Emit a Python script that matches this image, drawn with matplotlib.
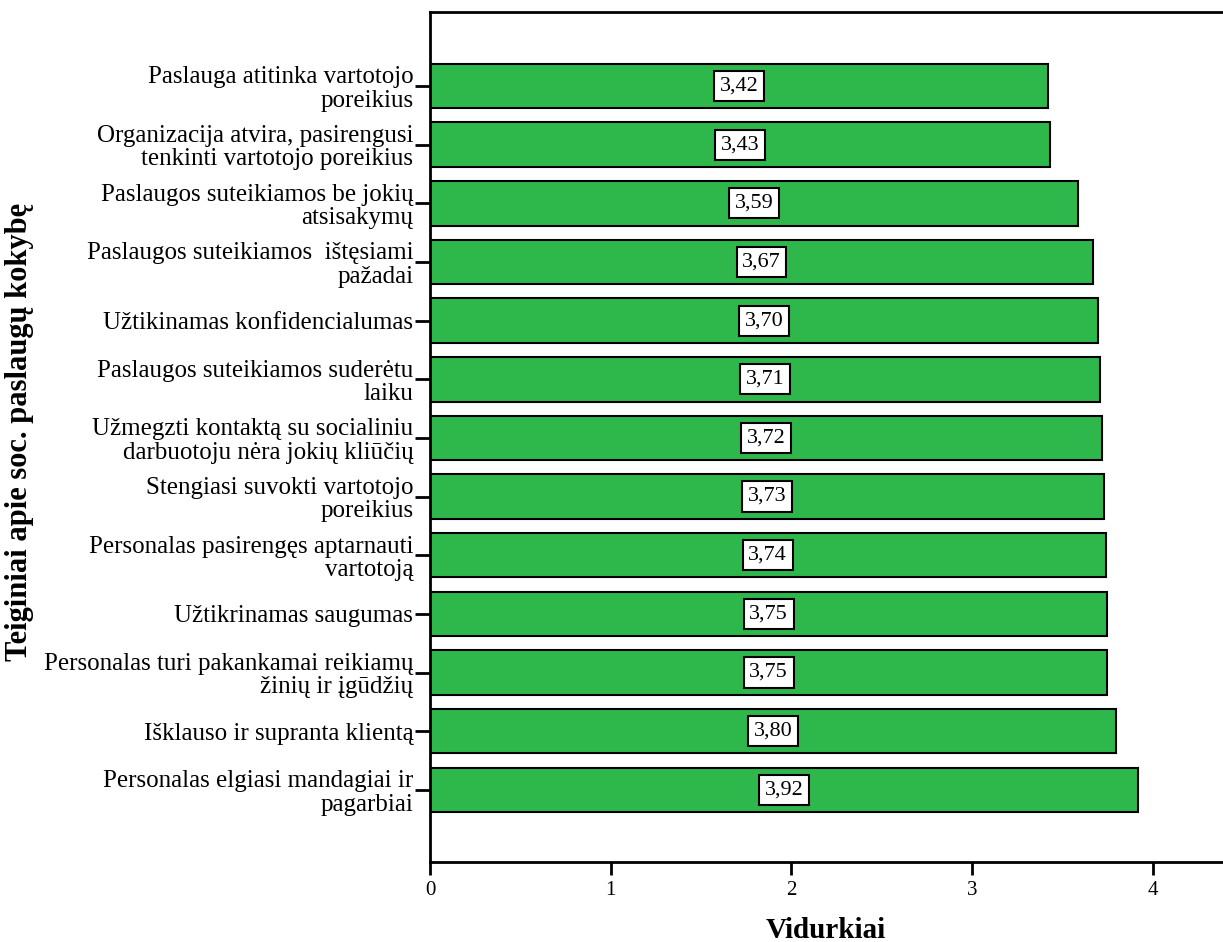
import matplotlib.pyplot as plt
import numpy as np

plt.rcParams['font.family'] = ['Liberation Serif', 'DejaVu Serif']

# duomenys
labels = [
    'Paslauga atitinka vartotojo\nporeikius',
    'Organizacija atvira, pasirengusi\ntenkinti vartotojo poreikius',
    'Paslaugos suteikiamos be jokių\natsisakymų',
    'Paslaugos suteikiamos  ištęsiami\npažadai',
    'Užtikinamas konfidencialumas',
    'Paslaugos suteikiamos suderėtu\nlaiku',
    'Užmegzti kontaktą su socialiniu\ndarbuotoju nėra jokių kliūčių',
    'Stengiasi suvokti vartotojo\nporeikius',
    'Personalas pasirengęs aptarnauti\nvartotoją',
    'Užtikrinamas saugumas',
    'Personalas turi pakankamai reikiamų\nžinių ir įgūdžių',
    'Išklauso ir supranta klientą',
    'Personalas elgiasi mandagiai ir\npagarbiai',
]
values = [3.42, 3.43, 3.59, 3.67, 3.70, 3.71, 3.72, 3.73, 3.74, 3.75, 3.75, 3.80, 3.92]

bar_color = '#2eb84b'

fig = plt.figure(figsize=(12.23, 9.42), dpi=100)
ax = fig.add_axes([430 / 1223, 1 - 862 / 942, 1 - 430 / 1223, 850 / 942])

y = np.arange(len(values))
ax.barh(y, values, height=0.76, color=bar_color, edgecolor='black', linewidth=1.5)

for yi, v in zip(y, values):
    ax.text(v / 2, yi, f'{v:.2f}'.replace('.', ','), ha='center', va='center', fontsize=16,
            bbox=dict(boxstyle='square,pad=0.25', facecolor='white', edgecolor='black', linewidth=1.5))

ax.set_yticks(y)
ax.set_yticklabels(labels, fontsize=18, linespacing=1.08)
ax.set_ylim(len(values) - 1 + 1.23, -1.26)
ax.set_xlim(0, 4.39)
ax.set_xticks([0, 1, 2, 3, 4])
ax.tick_params(axis='x', labelsize=15, length=9, width=2, pad=5)
ax.tick_params(axis='y', length=11, width=2, pad=1)

for s in ['left', 'bottom', 'top']:
    ax.spines[s].set_linewidth(2)
ax.spines['right'].set_visible(False)

fig.text(826 / 1223, 1 - 930 / 942, 'Vidurkiai', fontsize=21, fontweight='bold',
         ha='center', va='center')
fig.text(20 / 1223, 1 - 432 / 942, 'Teiginiai apie soc. paslaugų kokybę', fontsize=22,
         fontweight='bold', rotation=90, ha='center', va='center')

fig.savefig('out.png', dpi=100, facecolor='white')
